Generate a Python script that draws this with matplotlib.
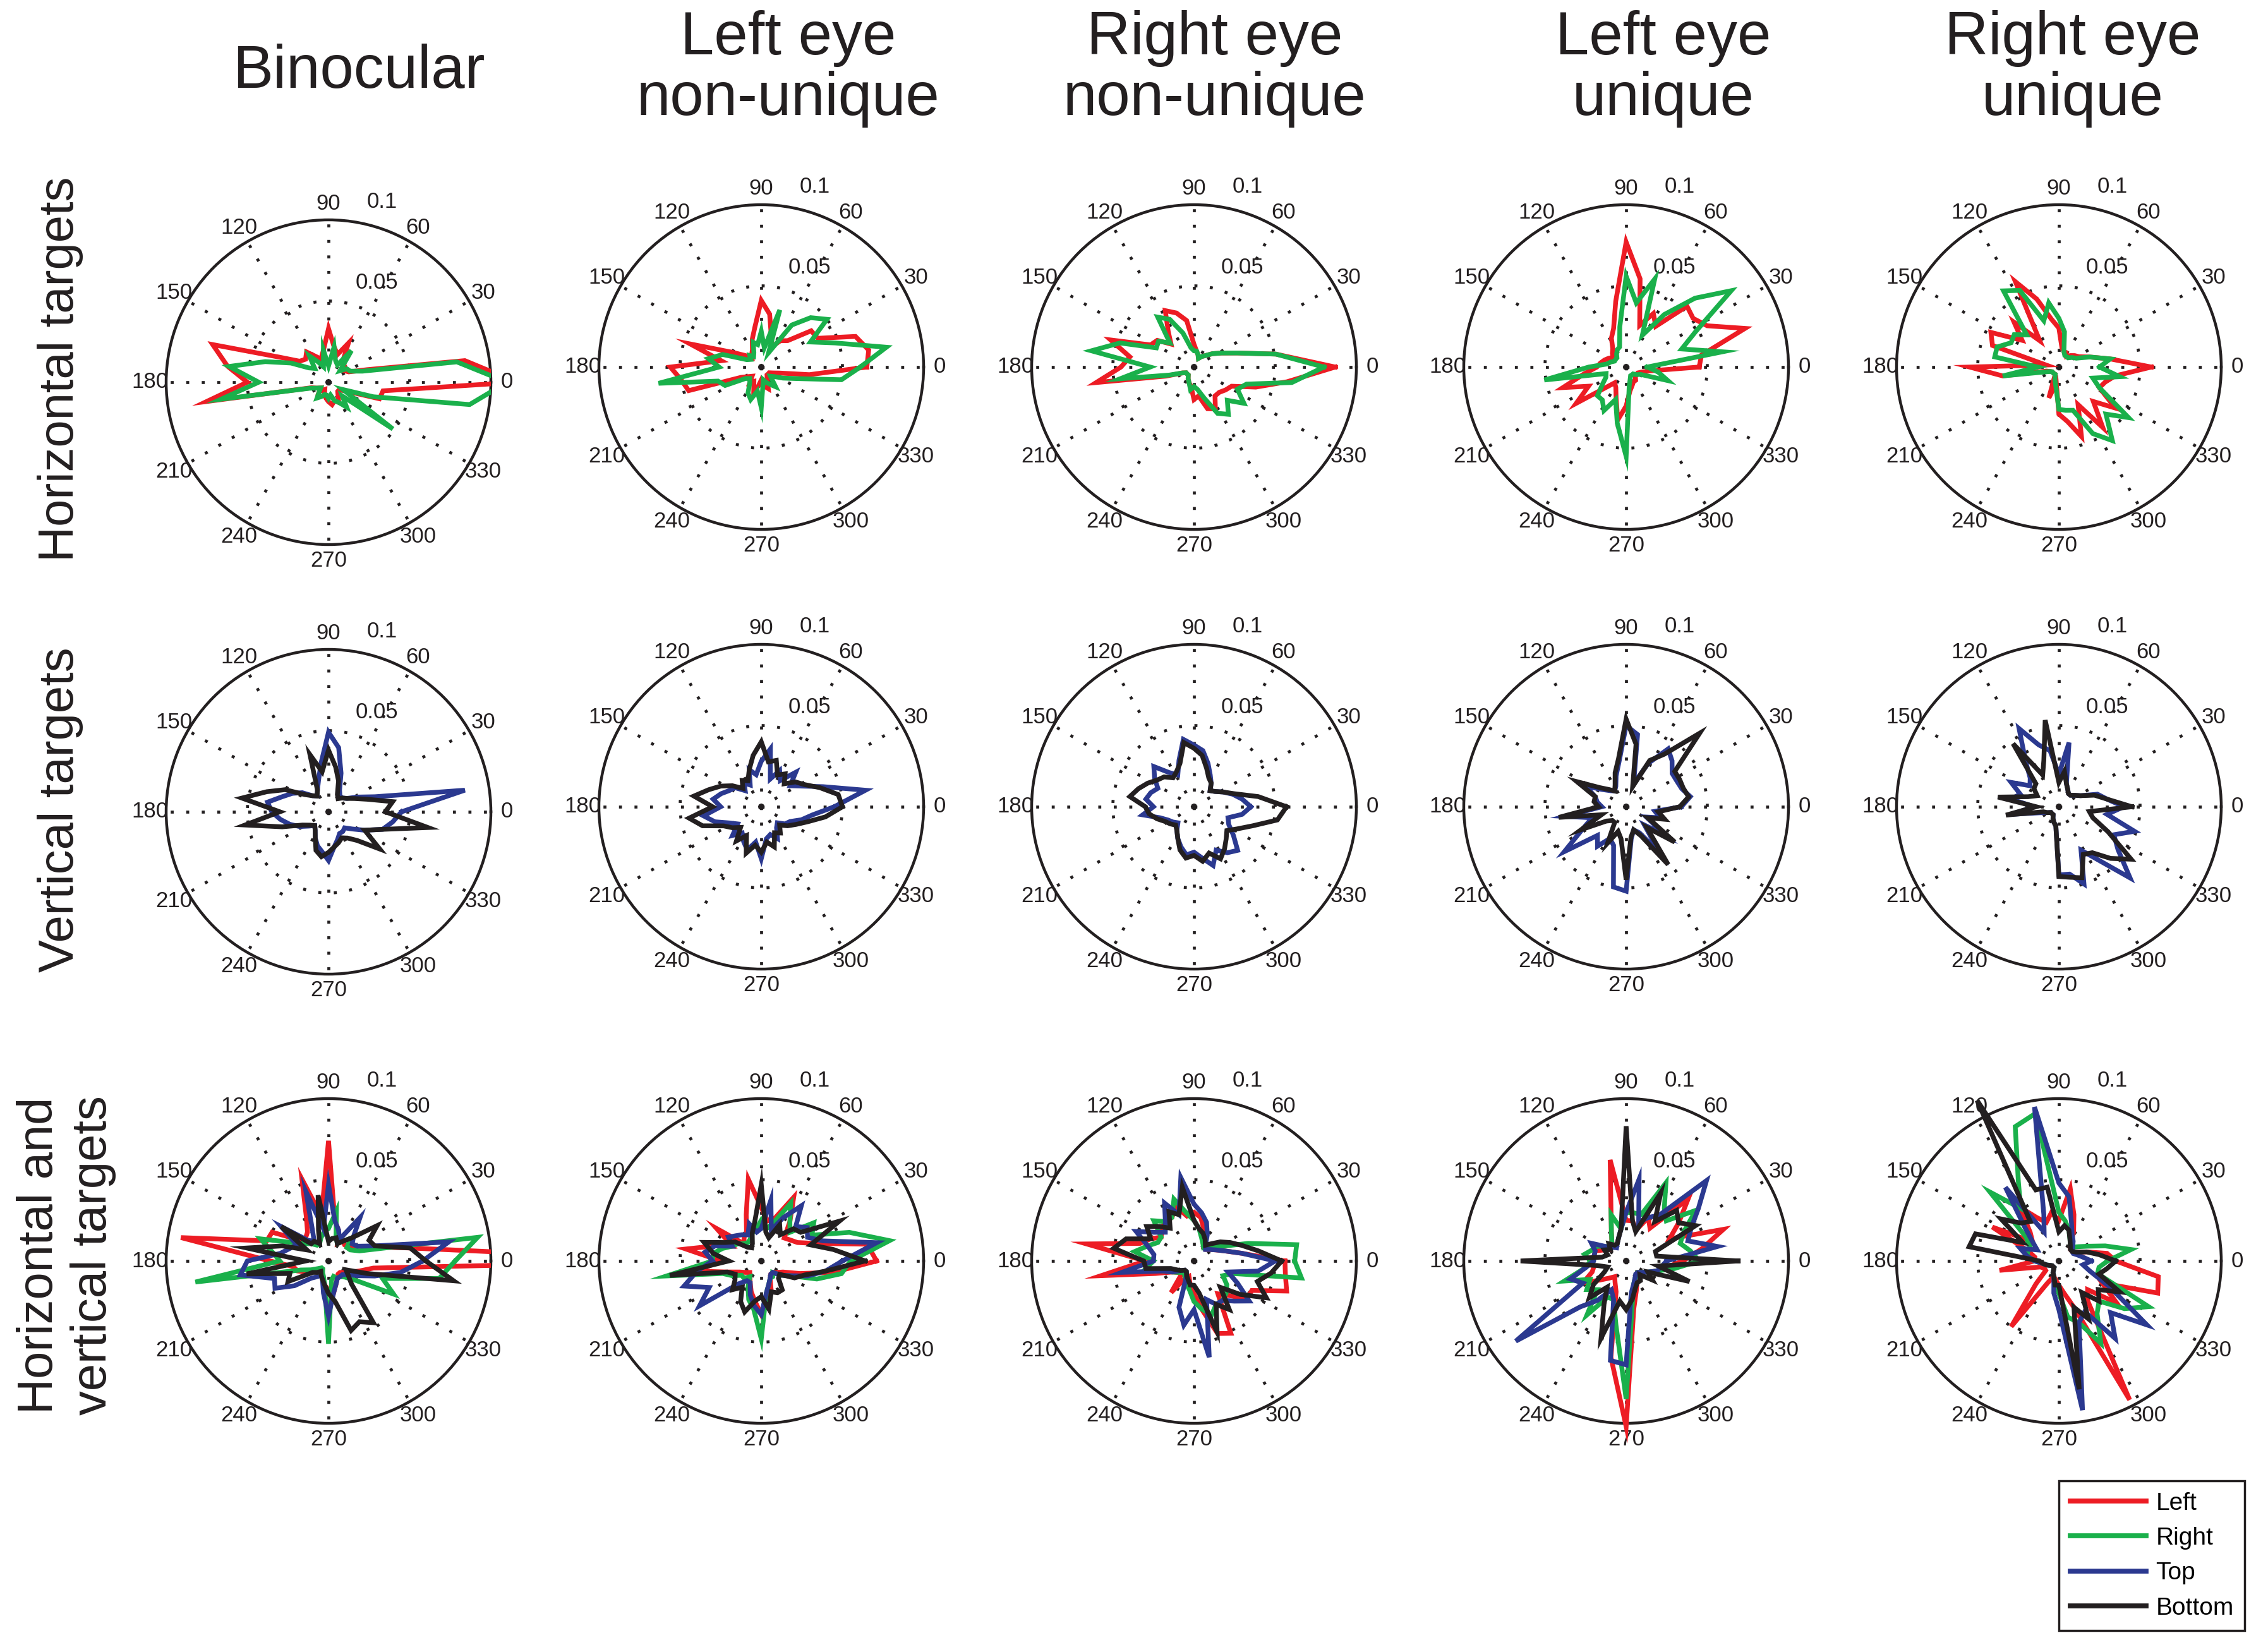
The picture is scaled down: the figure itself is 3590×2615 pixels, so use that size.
import numpy as np
import matplotlib
matplotlib.use('Agg')
import matplotlib.pyplot as plt
from matplotlib.patches import Rectangle
from matplotlib.lines import Line2D

plt.rcParams['font.family'] = ['Liberation Sans', 'DejaVu Sans']

# angle bins (deg), 9 deg wide
angles = list(range(0, 360, 9))

col_titles = ['Binocular', 'Left eye\nnon-unique', 'Right eye\nnon-unique',
              'Left eye\nunique', 'Right eye\nunique']
row_titles = ['Horizontal targets', 'Vertical targets', 'Horizontal and\nvertical targets']
angle_labels = ['0', '30', '60', '90', '120', '150', '180', '210', '240', '270', '300', '330']
r_labels = ['0.05', '0.1']
legend_names = ['Left', 'Right', 'Top', 'Bottom']

# proportions, in units of 1e-3, one value per 9 deg bin (0..351)
# --- horizontal targets: Left / Right
h_bin_L = [116, 85, 25, 14, 12, 14, 14, 27, 18, 22, 33, 20, 15, 18, 23, 20, 22, 34, 75, 63,
           50, 76, 11, 8, 6, 8, 6, 5, 8, 10, 12, 14, 12, 14, 10, 8, 8, 12, 33, 34]
h_bin_R = [110, 80, 22, 15, 14, 10, 24, 12, 14, 22, 10, 20, 10, 14, 20, 12, 15, 26, 41, 62,
           43, 67, 12, 8, 6, 8, 12, 10, 8, 8, 10, 8, 12, 14, 19, 12, 49, 10, 29, 88]
h_lnu_L = [65, 67, 61, 39, 38, 23, 20, 14, 20, 33, 41, 25, 18, 12, 10, 8, 12, 20, 46, 25,
           56, 50, 47, 14, 10, 8, 12, 10, 15, 12, 8, 12, 14, 8, 6, 6, 6, 8, 12, 30]
h_lnu_R = [61, 78, 48, 34, 50, 43, 32, 10, 37, 12, 22, 14, 16, 10, 8, 10, 8, 10, 25, 33,
           26, 64, 28, 25, 12, 10, 12, 18, 21, 15, 25, 8, 10, 12, 15, 8, 10, 15, 23, 50]
h_rnu_L = [87, 51, 28, 19, 14, 10, 8, 6, 8, 10, 14, 29, 35, 39, 27, 20, 28, 30, 54, 40,
           45, 61, 18, 8, 6, 6, 6, 8, 10, 12, 20, 18, 27, 29, 22, 22, 24, 26, 40, 58]
h_rnu_R = [80, 51, 28, 19, 14, 10, 8, 6, 8, 10, 10, 12, 22, 33, 38, 21, 27, 26, 48, 64,
           27, 46, 16, 8, 6, 6, 6, 8, 10, 14, 12, 14, 20, 32, 36, 29, 38, 30, 34, 61]
h_lu_L = [45, 47, 77, 56, 51, 53, 31, 37, 27, 55, 77, 41, 25, 20, 14, 12, 10, 12, 14, 16,
          18, 26, 41, 26, 38, 18, 12, 14, 20, 33, 24, 15, 12, 10, 10, 8, 8, 8, 10, 15]
h_lu_R = [13, 60, 36, 48, 80, 60, 40, 22, 57, 40, 56, 25, 13, 12, 10, 8, 8, 8, 10, 12,
          23, 51, 13, 14, 18, 25, 25, 30, 21, 35, 55, 12, 8, 6, 6, 6, 8, 10, 27, 20]
h_ru_L = [57, 32, 20, 14, 12, 10, 8, 10, 10, 12, 24, 30, 44, 59, 20, 39, 28, 47, 43, 8,
          55, 35, 8, 6, 5, 5, 5, 5, 20, 10, 29, 34, 45, 26, 46, 30, 43, 28, 30, 35]
h_ru_R = [25, 32, 20, 12, 10, 8, 8, 8, 10, 22, 30, 40, 30, 53, 58, 28, 34, 33, 40, 40,
          13, 35, 10, 6, 5, 5, 5, 5, 8, 12, 26, 27, 28, 46, 56, 41, 53, 28, 22, 38]

# --- vertical targets: Top / Bottom
v_bin_T = [45, 85, 30, 20, 14, 12, 12, 15, 25, 40, 49, 30, 20, 15, 12, 14, 20, 25, 30, 38,
           35, 30, 25, 20, 15, 12, 14, 18, 22, 25, 30, 22, 18, 15, 15, 14, 18, 25, 35, 40]
v_bin_B = [35, 40, 25, 18, 14, 12, 10, 12, 20, 28, 38, 25, 37, 15, 12, 14, 18, 30, 40, 54,
           30, 52, 30, 18, 14, 12, 14, 18, 25, 28, 25, 22, 20, 18, 20, 25, 39, 25, 35, 62]
v_lnu_T = [45, 65, 40, 28, 22, 30, 20, 25, 18, 36, 28, 20, 24, 15, 18, 14, 20, 22, 26, 30,
           25, 36, 30, 22, 18, 25, 20, 24, 28, 22, 32, 20, 18, 22, 16, 14, 18, 20, 26, 32]
v_lnu_B = [50, 48, 38, 30, 26, 20, 25, 22, 30, 28, 40, 32, 24, 18, 20, 16, 22, 28, 34, 42,
           30, 45, 38, 26, 22, 18, 26, 20, 30, 24, 28, 22, 26, 18, 20, 16, 20, 24, 30, 40]
v_rnu_T = [35, 30, 25, 20, 16, 14, 18, 22, 28, 35, 38, 42, 30, 22, 26, 35, 30, 25, 28, 30,
           25, 32, 22, 18, 16, 14, 18, 22, 26, 30, 28, 32, 38, 30, 35, 38, 30, 24, 22, 30]
v_rnu_B = [57, 40, 26, 20, 16, 14, 18, 20, 25, 32, 36, 40, 28, 24, 22, 26, 28, 32, 36, 40,
           30, 28, 24, 20, 18, 16, 18, 22, 28, 32, 30, 34, 30, 36, 32, 28, 25, 30, 38, 52]
v_lu_T = [34, 40, 36, 35, 35, 40, 44, 30, 15, 45, 50, 28, 20, 14, 12, 14, 18, 28, 20, 18,
          15, 38, 22, 30, 47, 25, 30, 22, 25, 50, 52, 20, 15, 18, 35, 16, 30, 14, 22, 18]
v_lu_B = [33, 39, 37, 37, 37, 64, 40, 32, 13, 39, 54, 30, 22, 15, 12, 15, 20, 34, 20, 20,
          17, 42, 16, 31, 15, 12, 12, 25, 16, 20, 45, 19, 15, 20, 44, 18, 37, 15, 25, 20]
v_ru_T = [40, 30, 25, 15, 12, 10, 10, 12, 15, 40, 20, 35, 40, 54, 35, 25, 22, 33, 25, 30,
          15, 30, 12, 8, 6, 6, 6, 8, 10, 12, 42, 42, 50, 30, 40, 62, 45, 38, 49, 30]
v_ru_B = [45, 30, 23, 15, 12, 10, 10, 12, 15, 22, 15, 54, 30, 22, 48, 20, 19, 15, 20, 38,
          14, 33, 10, 8, 6, 6, 6, 8, 10, 12, 43, 44, 46, 33, 35, 45, 55, 34, 22, 19]

# --- horizontal and vertical targets: Left / Right / Top / Bottom
hv_bin_L = [224, 51, 28, 20, 15, 14, 15, 12, 20, 25, 74, 28, 53, 30, 22, 20, 22, 39, 40, 92,
            36, 22, 20, 15, 10, 8, 8, 10, 12, 15, 18, 20, 15, 12, 10, 10, 12, 15, 20, 28]
hv_bin_R = [78, 93, 20, 15, 14, 20, 15, 12, 15, 31, 20, 18, 15, 12, 12, 15, 18, 25, 44, 35,
            30, 83, 18, 12, 8, 6, 6, 8, 10, 15, 51, 12, 10, 12, 12, 14, 20, 45, 35, 69]
hv_bin_T = [58, 75, 30, 20, 18, 22, 33, 15, 20, 25, 47, 20, 45, 22, 15, 18, 36, 22, 25, 30,
            50, 55, 35, 37, 26, 15, 12, 10, 12, 20, 34, 20, 15, 12, 12, 12, 14, 20, 30, 45]
hv_bin_B = [60, 51, 30, 28, 37, 20, 15, 12, 15, 14, 12, 41, 20, 12, 15, 15, 36, 15, 30, 51,
            14, 51, 25, 28, 12, 10, 8, 10, 12, 15, 20, 25, 45, 42, 47, 20, 15, 12, 25, 78]
hv_lnu_L = [71, 66, 35, 25, 22, 20, 30, 44, 28, 25, 33, 51, 30, 20, 18, 15, 34, 20, 30, 47,
            25, 40, 22, 15, 12, 10, 12, 15, 20, 25, 33, 25, 20, 12, 10, 10, 12, 15, 25, 45]
hv_lnu_R = [55, 80, 57, 35, 40, 25, 30, 40, 25, 20, 25, 20, 18, 15, 14, 15, 18, 20, 25, 30,
            30, 59, 25, 20, 15, 15, 12, 18, 25, 30, 48, 20, 15, 12, 12, 10, 15, 20, 36, 50]
hv_lnu_T = [50, 72, 40, 32, 35, 30, 42, 30, 20, 38, 20, 18, 24, 18, 20, 22, 25, 20, 30, 35,
            30, 40, 50, 36, 47, 20, 15, 15, 22, 28, 33, 20, 15, 12, 10, 10, 15, 20, 30, 40]
hv_lnu_B = [64, 45, 32, 54, 30, 28, 20, 25, 15, 18, 47, 25, 18, 12, 10, 12, 20, 25, 37, 30,
            20, 57, 22, 18, 20, 25, 20, 28, 33, 25, 22, 30, 20, 22, 22, 15, 14, 23, 28, 40]
hv_rnu_L = [56, 30, 20, 15, 12, 10, 10, 15, 20, 27, 30, 28, 35, 30, 30, 28, 25, 30, 35, 67,
            30, 58, 25, 15, 12, 10, 24, 12, 10, 15, 20, 30, 47, 50, 25, 30, 40, 40, 60, 57]
hv_rnu_R = [62, 64, 35, 20, 15, 12, 10, 12, 15, 20, 25, 30, 40, 30, 30, 35, 25, 25, 30, 37,
            25, 30, 20, 15, 12, 10, 10, 12, 15, 18, 25, 30, 35, 30, 30, 28, 25, 20, 25, 67]
hv_rnu_T = [50, 30, 20, 15, 12, 10, 12, 18, 25, 30, 35, 52, 30, 40, 30, 25, 30, 40, 30, 25,
            25, 45, 20, 15, 10, 8, 8, 10, 30, 40, 30, 60, 25, 30, 30, 35, 42, 30, 22, 40]
hv_rnu_B = [54, 40, 31, 25, 20, 15, 12, 15, 18, 20, 25, 46, 30, 34, 25, 30, 36, 30, 44, 50,
            31, 30, 15, 12, 10, 8, 8, 10, 12, 15, 15, 20, 46, 30, 37, 23, 35, 50, 41, 48]
hv_lu_L = [35, 47, 63, 30, 40, 54, 25, 30, 20, 25, 25, 63, 30, 20, 15, 12, 12, 15, 20, 20,
           22, 20, 22, 30, 20, 15, 12, 15, 20, 60, 102, 30, 20, 15, 12, 10, 12, 15, 20, 25]
hv_lu_R = [45, 40, 35, 40, 53, 35, 40, 54, 30, 30, 30, 20, 30, 20, 15, 12, 15, 20, 22, 26,
           22, 25, 40, 25, 30, 25, 41, 25, 25, 40, 85, 25, 15, 12, 12, 10, 12, 15, 20, 30]
hv_lu_T = [25, 57, 40, 45, 55, 70, 35, 30, 25, 51, 30, 20, 15, 12, 10, 12, 15, 24, 20, 20,
           20, 25, 36, 30, 84, 40, 30, 20, 25, 62, 64, 20, 15, 12, 10, 10, 12, 15, 20, 22]
hv_lu_B = [69, 19, 19, 48, 40, 44, 30, 47, 19, 25, 83, 20, 15, 12, 12, 15, 12, 15, 12, 15,
           65, 18, 12, 15, 25, 32, 20, 30, 50, 25, 30, 24, 18, 15, 15, 12, 20, 15, 41, 20]
hv_ru_L = [35, 30, 18, 12, 10, 10, 12, 20, 30, 45, 25, 30, 25, 30, 41, 25, 20, 46, 20, 15,
           15, 37, 12, 10, 10, 20, 50, 15, 10, 12, 15, 20, 30, 96, 30, 25, 44, 30, 64, 62]
hv_ru_R = [30, 45, 30, 20, 15, 12, 12, 15, 20, 25, 30, 92, 87, 55, 40, 60, 25, 20, 20, 20,
           15, 10, 8, 6, 5, 5, 5, 8, 10, 15, 20, 35, 40, 57, 40, 35, 50, 62, 25, 25]
hv_ru_T = [20, 15, 12, 10, 10, 12, 15, 18, 25, 40, 48, 96, 30, 20, 56, 30, 20, 15, 25, 20,
           15, 10, 8, 6, 5, 5, 5, 8, 10, 20, 30, 93, 40, 35, 59, 45, 67, 35, 20, 15]
hv_ru_B = [35, 25, 18, 12, 10, 10, 12, 15, 20, 22, 18, 46, 46, 111, 30, 33, 44, 25, 54, 56,
           12, 10, 8, 6, 5, 5, 5, 8, 10, 15, 15, 80, 30, 40, 24, 35, 30, 42, 26, 30]

RED, GREEN, BLUE, BLACK = '#ED1C24', '#1AB04B', '#2B3990', '#231F20'
TXT = '#231F20'

panels = [
    [[(h_bin_L, RED), (h_bin_R, GREEN)],
     [(h_lnu_L, RED), (h_lnu_R, GREEN)],
     [(h_rnu_L, RED), (h_rnu_R, GREEN)],
     [(h_lu_L, RED), (h_lu_R, GREEN)],
     [(h_ru_L, RED), (h_ru_R, GREEN)]],
    [[(v_bin_T, BLUE), (v_bin_B, BLACK)],
     [(v_lnu_T, BLUE), (v_lnu_B, BLACK)],
     [(v_rnu_T, BLUE), (v_rnu_B, BLACK)],
     [(v_lu_T, BLUE), (v_lu_B, BLACK)],
     [(v_ru_T, BLUE), (v_ru_B, BLACK)]],
    [[(hv_bin_L, RED), (hv_bin_R, GREEN), (hv_bin_T, BLUE), (hv_bin_B, BLACK)],
     [(hv_lnu_L, RED), (hv_lnu_R, GREEN), (hv_lnu_T, BLUE), (hv_lnu_B, BLACK)],
     [(hv_rnu_L, RED), (hv_rnu_R, GREEN), (hv_rnu_T, BLUE), (hv_rnu_B, BLACK)],
     [(hv_lu_L, RED), (hv_lu_R, GREEN), (hv_lu_T, BLUE), (hv_lu_B, BLACK)],
     [(hv_ru_L, RED), (hv_ru_R, GREEN), (hv_ru_T, BLUE), (hv_ru_B, BLACK)]],
]

W, H = 3590, 2615
R = 257          # panel radius in px
RMAX = 0.1
col_x = [520, 1205, 1890, 2574, 3259]
row_y = [581, 1277, 1996]
DOT = (0, (1, 4.2))

fig = plt.figure(figsize=(W / 100, H / 100), dpi=100)


def polar_panel(cx, cy, series):
    ax = fig.add_axes([(cx - R) / W, 1 - (cy + R) / H, 2 * R / W, 2 * R / H],
                      projection='polar')
    ax.set_ylim(0, RMAX)
    ax.set_xticks([])
    ax.set_yticks([])
    ax.grid(False)
    ax.spines['polar'].set_linewidth(3.2)
    ax.spines['polar'].set_color(TXT)
    for a in range(0, 360, 30):
        t = np.deg2rad(a)
        ax.plot([t, t], [0, RMAX], ls=DOT, color=TXT, lw=3.4, zorder=1)
        ax.text(t, 1.1 * RMAX, angle_labels[a // 30], ha='center', va='center',
                fontsize=25, color=TXT)
    ring = np.linspace(0, 2 * np.pi, 300)
    ax.plot(ring, np.full_like(ring, 0.05), ls=DOT, color=TXT, lw=3.4, zorder=1)
    ax.text(0.583, 0.807, r_labels[0], transform=ax.transAxes, ha='left', va='center',
            fontsize=25, color=TXT)
    ax.text(0.617, 1.055, r_labels[1], transform=ax.transAxes, ha='left', va='center',
            fontsize=25, color=TXT)
    th = np.deg2rad(angles + [360])
    for vals, c in series:
        rr = np.array(vals + vals[:1]) / 1000.0
        ln, = ax.plot(th, rr, color=c, lw=5.4, solid_joinstyle='miter', zorder=3)
        ln.set_clip_path(Rectangle((0, -0.1), 1, 1.2, transform=ax.transAxes))
    return ax


for i in range(3):
    for j in range(5):
        cy = row_y[i]
        if j == 0 and i == 0:
            cy = 605
        elif j == 0 and i == 1:
            cy = 1285
        polar_panel(col_x[j], cy, panels[i][j])

# column titles
title_x = [568, 1248, 1923, 2633, 3281]
for j, t in enumerate(col_titles):
    y = 114 if j == 0 else 109
    fig.text(title_x[j] / W, 1 - y / H, t, ha='center', va='center', fontsize=69,
             linespacing=1.1, color=TXT)

# row titles
row_lab_xy = [(96, 584), (96, 1282), (105, 1987)]
for i, t in enumerate(row_titles):
    x, y = row_lab_xy[i]
    fig.text(x / W, 1 - y / H, t, ha='center', va='center', rotation=90,
             fontsize=56, multialignment='center', color=TXT)

handles = [Line2D([], [], color=c, lw=5.6) for c in (RED, GREEN, BLUE, BLACK)]
leg = fig.legend(handles, legend_names, loc='upper left',
                 bbox_to_anchor=(3259 / W, 1 - 2344 / H), fontsize=28,
                 frameon=True, fancybox=False, edgecolor=TXT, framealpha=1,
                 borderpad=0.45, handlelength=3.1, handletextpad=0.4,
                 labelspacing=0.5, borderaxespad=0)
leg.get_frame().set_linewidth(2.5)

fig.savefig('out.png', dpi=100)
